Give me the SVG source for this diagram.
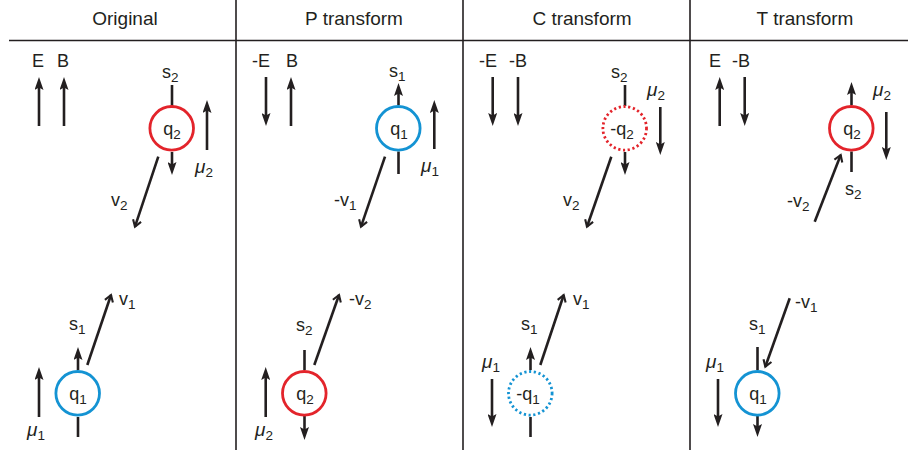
<svg xmlns="http://www.w3.org/2000/svg" width="908" height="454" viewBox="0 0 908 454">
<style>
.grid{stroke:#231f20;stroke-width:1.6;fill:none}
.title{font-family:"Liberation Sans",Arial,sans-serif;font-size:19px;fill:#231f20;text-anchor:middle}
.lab{font-family:"Liberation Sans",Arial,sans-serif;font-size:18px;fill:#231f20}
.q{font-family:"Liberation Sans",Arial,sans-serif;font-size:18px;fill:#231f20;text-anchor:middle}
.sub{font-size:13.5px}
.mu{font-style:italic;font-size:19px}
.arr{stroke:#231f20;stroke-width:2.6;fill:none;marker-end:url(#ah)}
.vel{stroke:#231f20;stroke-width:2.6;fill:none;marker-end:url(#ch)}
.bar{stroke:#231f20;stroke-width:2.6;fill:none}
.red{stroke:#e3242b;stroke-width:2.8;fill:#fff}
.blue{stroke:#1493d3;stroke-width:2.8;fill:#fff}
.dot{stroke-dasharray:2.2 2.6}
</style>
<defs>
<marker id="ah" viewBox="0 0 13 9" refX="4" refY="4.5" markerWidth="13" markerHeight="9" markerUnits="userSpaceOnUse" orient="auto"><path d="M0,0 L13,4.5 L0,9 L2.5,4.5 z" fill="#231f20"/></marker>
<marker id="ch" viewBox="-9 -6 12 12" refX="0" refY="0" markerWidth="12" markerHeight="12" markerUnits="userSpaceOnUse" orient="auto"><path d="M-6.5,-4.2 L0,0 L-6.5,4.2" fill="none" stroke="#231f20" stroke-width="2.1"/></marker>
</defs>
<rect width="908" height="454" fill="#fff"/>
<g id="grid">
<line class="grid" x1="9" y1="40.5" x2="908" y2="40.5"/>
<line class="grid" x1="236" y1="0" x2="236" y2="450"/>
<line class="grid" x1="463" y1="0" x2="463" y2="450"/>
<line class="grid" x1="690" y1="0" x2="690" y2="450"/>
</g>
<g id="titles">
<text class="title" x="125" y="25">Original</text>
<text class="title" x="354" y="25">P transform</text>
<text class="title" x="582" y="25">C transform</text>
<text class="title" x="805" y="25">T transform</text>
</g>
<g id="connectors">
<path class="arr" d="M39,126 V86"/>
<path class="arr" d="M64,126 V86"/>
<path class="bar" d="M172,85 V106"/>
<path class="arr" d="M172,152 V166"/>
<path class="arr" d="M207,150 V109"/>
<path class="vel" d="M158.3,156.7 L135,226.7"/>
<path class="arr" d="M78,370 V356"/>
<path class="bar" d="M78,417 V437"/>
<path class="vel" d="M87.3,365 L111,295"/>
<path class="arr" d="M39,417 V376"/>
<path class="arr" d="M266,77 V117"/>
<path class="arr" d="M291,126 V86"/>
<path class="arr" d="M398.5,105 V92"/>
<path class="bar" d="M398.5,151.5 V174"/>
<path class="arr" d="M434.3,149 V109"/>
<path class="vel" d="M385,156.7 L361,226.7"/>
<path class="bar" d="M304.5,350 V370"/>
<path class="arr" d="M304.5,416 V431"/>
<path class="vel" d="M314.3,365 L339,295"/>
<path class="arr" d="M265.7,417 V376"/>
<path class="arr" d="M492.7,77 V117"/>
<path class="arr" d="M518,77 V117"/>
<path class="bar" d="M625,85 V106"/>
<path class="arr" d="M625,152 V166"/>
<path class="arr" d="M660.3,107 V146"/>
<path class="vel" d="M611.3,156.7 L587,226.7"/>
<path class="arr" d="M530.5,370 V356"/>
<path class="bar" d="M530.5,417 V437"/>
<path class="vel" d="M540.3,365 L563.7,295"/>
<path class="arr" d="M492,379 V418"/>
<path class="arr" d="M719.7,126 V86"/>
<path class="arr" d="M744.7,77 V117"/>
<path class="arr" d="M851.5,105 V91"/>
<path class="bar" d="M851.5,151.5 V172"/>
<path class="arr" d="M886.3,112 V151"/>
<path class="vel" d="M814.7,221.7 L840.7,155"/>
<path class="bar" d="M757.5,347 V370"/>
<path class="arr" d="M757.5,416 V428"/>
<path class="vel" d="M789.7,298.3 L765.3,366.7"/>
<path class="arr" d="M718,379 V418"/>
</g>
<g id="fields">
<text class="lab" x="32" y="67">E</text>
<text class="lab" x="57" y="67">B</text>
<text class="lab" x="252" y="67">-E</text>
<text class="lab" x="286" y="67">B</text>
<text class="lab" x="479" y="67">-E</text>
<text class="lab" x="509" y="67">-B</text>
<text class="lab" x="709" y="67">E</text>
<text class="lab" x="732" y="67">-B</text>
</g>
<g id="orig-q2">
<circle class="red" cx="171.7" cy="128.3" r="21.8"/>
<text class="q" x="172" y="135">q<tspan class="sub" dy="4">2</tspan></text>
<text class="lab" x="162" y="78">s<tspan class="sub" dy="4">2</tspan></text>
<text class="lab" x="195" y="173"><tspan class="mu">μ</tspan><tspan class="sub" dy="4">2</tspan></text>
<text class="lab" x="111" y="206">v<tspan class="sub" dy="4">2</tspan></text>
</g>
<g id="orig-q1">
<circle class="blue" cx="77.7" cy="393.3" r="21.8"/>
<text class="q" x="78" y="400">q<tspan class="sub" dy="4">1</tspan></text>
<text class="lab" x="69" y="330">s<tspan class="sub" dy="4">1</tspan></text>
<text class="lab" x="119" y="305">v<tspan class="sub" dy="4">1</tspan></text>
<text class="lab" x="27" y="436"><tspan class="mu">μ</tspan><tspan class="sub" dy="4">1</tspan></text>
</g>
<g id="p-q1">
<circle class="blue" cx="398.3" cy="128.3" r="21.8"/>
<text class="q" x="399" y="135">q<tspan class="sub" dy="4">1</tspan></text>
<text class="lab" x="389" y="77">s<tspan class="sub" dy="4">1</tspan></text>
<text class="lab" x="421" y="172"><tspan class="mu">μ</tspan><tspan class="sub" dy="4">1</tspan></text>
<text class="lab" x="334" y="206">-v<tspan class="sub" dy="4">1</tspan></text>
</g>
<g id="p-q2">
<circle class="red" cx="304.3" cy="393.3" r="21.8"/>
<text class="q" x="305" y="400">q<tspan class="sub" dy="4">2</tspan></text>
<text class="lab" x="296" y="331">s<tspan class="sub" dy="4">2</tspan></text>
<text class="lab" x="349" y="305">-v<tspan class="sub" dy="4">2</tspan></text>
<text class="lab" x="255" y="436"><tspan class="mu">μ</tspan><tspan class="sub" dy="4">2</tspan></text>
</g>
<g id="c-q2">
<circle class="red dot" cx="624.7" cy="128.3" r="21.8"/>
<text class="q" x="622" y="135">-q<tspan class="sub" dy="4">2</tspan></text>
<text class="lab" x="611" y="78">s<tspan class="sub" dy="4">2</tspan></text>
<text class="lab" x="647" y="96"><tspan class="mu">μ</tspan><tspan class="sub" dy="4">2</tspan></text>
<text class="lab" x="563" y="206">v<tspan class="sub" dy="4">2</tspan></text>
</g>
<g id="c-q1">
<circle class="blue dot" cx="530.3" cy="393.3" r="21.8"/>
<text class="q" x="528" y="400">-q<tspan class="sub" dy="4">1</tspan></text>
<text class="lab" x="521" y="330">s<tspan class="sub" dy="4">1</tspan></text>
<text class="lab" x="573" y="305">v<tspan class="sub" dy="4">1</tspan></text>
<text class="lab" x="482" y="368"><tspan class="mu">μ</tspan><tspan class="sub" dy="4">1</tspan></text>
</g>
<g id="t-q2">
<circle class="red" cx="851.3" cy="128.3" r="21.8"/>
<text class="q" x="852" y="135">q<tspan class="sub" dy="4">2</tspan></text>
<text class="lab" x="845" y="195">s<tspan class="sub" dy="4">2</tspan></text>
<text class="lab" x="873" y="96"><tspan class="mu">μ</tspan><tspan class="sub" dy="4">2</tspan></text>
<text class="lab" x="787" y="207">-v<tspan class="sub" dy="4">2</tspan></text>
</g>
<g id="t-q1">
<circle class="blue" cx="757.3" cy="393.3" r="21.8"/>
<text class="q" x="758" y="400">q<tspan class="sub" dy="4">1</tspan></text>
<text class="lab" x="749" y="330">s<tspan class="sub" dy="4">1</tspan></text>
<text class="lab" x="795" y="308">-v<tspan class="sub" dy="4">1</tspan></text>
<text class="lab" x="706" y="368"><tspan class="mu">μ</tspan><tspan class="sub" dy="4">1</tspan></text>
</g>
</svg>
